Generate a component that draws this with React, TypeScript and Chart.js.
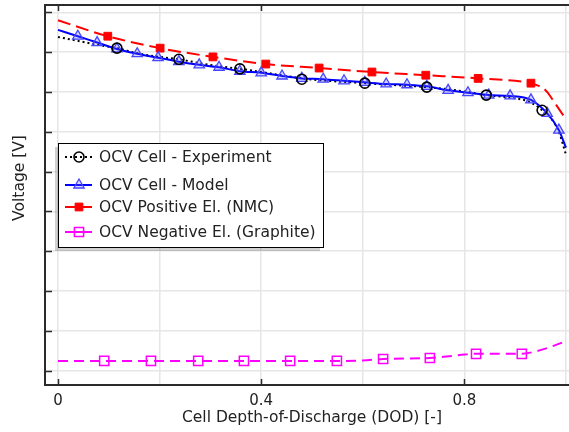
import React, { useEffect, useRef } from "react";
import { Chart, registerables } from "chart.js";
Chart.register(...registerables);

// ---------- axis ticks ----------
const xTickValues = [0, 0.2, 0.4, 0.6, 0.8, 1.0];
const xTickLabels = ["0", "", "0.4", "", "0.8", ""];
const yTickValues = [0, 0.5, 1, 1.5, 2, 2.5, 3, 3.5, 4, 4.5];

const xTitle = "Cell Depth-of-Discharge (DOD) [-]";
const yTitle = "Voltage [V]";

// ---------- series names ----------
const seriesNames = [
  "OCV Cell - Experiment",
  "OCV Cell - Model",
  "OCV Positive El. (NMC)",
  "OCV Negative El. (Graphite)",
];

// ---------- OCV Cell - Experiment ----------
const expDod = [0, 0.04, 0.08, 0.116, 0.16, 0.2, 0.238, 0.28, 0.32, 0.358, 0.4, 0.44, 0.48, 0.54, 0.604, 0.665, 0.726, 0.785, 0.843, 0.9, 0.93, 0.953, 0.974, 0.987, 1.0];
const expV = [4.19, 4.14, 4.09, 4.05, 3.98, 3.94, 3.91, 3.86, 3.82, 3.79, 3.75, 3.71, 3.67, 3.635, 3.61, 3.585, 3.56, 3.52, 3.46, 3.42, 3.37, 3.27, 3.14, 2.98, 2.71];
const expMarkDod = [0.116, 0.238, 0.358, 0.48, 0.604, 0.726, 0.843, 0.953];
const expMarkV = [4.05, 3.91, 3.79, 3.66, 3.61, 3.56, 3.46, 3.27];

// ---------- OCV Cell - Model ----------
const modelDod = [0, 0.039, 0.077, 0.116, 0.156, 0.197, 0.238, 0.278, 0.317, 0.358, 0.4, 0.441, 0.48, 0.522, 0.563, 0.604, 0.646, 0.687, 0.726, 0.768, 0.807, 0.848, 0.89, 0.931, 0.963, 0.986, 1.0];
const modelV = [4.28, 4.2, 4.12, 4.04, 3.98, 3.93, 3.88, 3.84, 3.81, 3.76, 3.74, 3.7, 3.67, 3.66, 3.64, 3.62, 3.6, 3.59, 3.57, 3.52, 3.49, 3.46, 3.45, 3.4, 3.23, 3.02, 2.8];
const modelMarkDod = [0.039, 0.077, 0.116, 0.156, 0.197, 0.238, 0.278, 0.317, 0.358, 0.4, 0.441, 0.48, 0.522, 0.563, 0.604, 0.646, 0.687, 0.726, 0.768, 0.807, 0.848, 0.89, 0.931, 0.963, 0.986];
const modelMarkV = [4.2, 4.12, 4.04, 3.98, 3.93, 3.88, 3.84, 3.81, 3.76, 3.74, 3.7, 3.67, 3.66, 3.64, 3.62, 3.6, 3.59, 3.57, 3.52, 3.49, 3.46, 3.45, 3.4, 3.23, 3.02];

// ---------- OCV Positive El. (NMC) ----------
const posDod = [0, 0.098, 0.201, 0.305, 0.409, 0.514, 0.618, 0.724, 0.827, 0.931, 0.945, 0.955, 0.964, 0.974, 0.992, 1.0];
const posV = [4.4, 4.2, 4.05, 3.94, 3.85, 3.8, 3.75, 3.71, 3.67, 3.61, 3.58, 3.55, 3.49, 3.4, 3.23, 3.16];
const posMarkDod = [0.098, 0.201, 0.305, 0.409, 0.514, 0.618, 0.724, 0.827, 0.931];
const posMarkV = [4.2, 4.05, 3.94, 3.85, 3.8, 3.75, 3.71, 3.67, 3.61];

// ---------- OCV Negative El. (Graphite) ----------
const negDod = [0, 0.091, 0.183, 0.276, 0.366, 0.457, 0.549, 0.6, 0.64, 0.732, 0.77, 0.8, 0.823, 0.913, 0.943, 0.969, 1.0];
const negV = [0.12, 0.12, 0.12, 0.12, 0.12, 0.12, 0.12, 0.125, 0.145, 0.157, 0.18, 0.2, 0.21, 0.21, 0.245, 0.295, 0.37];
const negMarkDod = [0.091, 0.183, 0.276, 0.366, 0.457, 0.549, 0.64, 0.732, 0.823, 0.913];
const negMarkV = [0.12, 0.12, 0.12, 0.12, 0.12, 0.12, 0.145, 0.157, 0.21, 0.21];

const zip = (xs: number[], ys: number[]) => xs.map((x, i) => ({ x, y: ys[i] }));

const FONT = "'DejaVu Sans', 'Liberation Sans', sans-serif";

type Style = {
  color: string;
  dash: number[];
  width: number;
  marker: "circle" | "triangle" | "rect";
  r: number;
  mBorder: string;
  mFill: string;
  mWidth: number;
};

const styles: Style[] = [
  { color: "#000000", dash: [2, 3], width: 2, marker: "circle", r: 5, mBorder: "#000000", mFill: "rgba(0,0,0,0)", mWidth: 1.6 },
  { color: "#0000ff", dash: [], width: 2, marker: "triangle", r: 6, mBorder: "#4646ff", mFill: "rgba(90,90,255,0.25)", mWidth: 1.3 },
  { color: "#ff0000", dash: [13, 6], width: 2, marker: "rect", r: 5.5, mBorder: "#ff0000", mFill: "#ff0000", mWidth: 1 },
  { color: "#ff00ff", dash: [10, 6], width: 2, marker: "rect", r: 6.5, mBorder: "#ff00ff", mFill: "rgba(255,0,255,0)", mWidth: 1.5 },
];

function drawMarker(ctx: CanvasRenderingContext2D, s: Style, x: number, y: number) {
  ctx.save();
  ctx.setLineDash([]);
  ctx.lineWidth = s.mWidth;
  ctx.strokeStyle = s.mBorder;
  ctx.fillStyle = s.mFill;
  ctx.beginPath();
  if (s.marker === "circle") {
    ctx.arc(x, y, s.r, 0, Math.PI * 2);
  } else if (s.marker === "triangle") {
    let rad = -Math.PI / 2;
    ctx.moveTo(x + Math.cos(rad) * s.r, y + Math.sin(rad) * s.r);
    rad += (2 * Math.PI) / 3;
    ctx.lineTo(x + Math.cos(rad) * s.r, y + Math.sin(rad) * s.r);
    rad += (2 * Math.PI) / 3;
    ctx.lineTo(x + Math.cos(rad) * s.r, y + Math.sin(rad) * s.r);
    ctx.closePath();
  } else {
    const h = s.r * Math.SQRT1_2;
    ctx.rect(x - h, y - h, 2 * h, 2 * h);
  }
  ctx.fill();
  ctx.stroke();
  ctx.restore();
}

export default function App() {
  const ref = useRef<HTMLCanvasElement>(null);

  useEffect(() => {
    if (!ref.current) return;

    const framePlugin = {
      id: "frame",
      afterDraw(chart: any) {
        const { ctx, chartArea, scales } = chart;
        const xs = scales.x;
        const ys = scales.y;
        ctx.save();
        // top border
        ctx.strokeStyle = "#2b2b2b";
        ctx.lineWidth = 2;
        ctx.beginPath();
        ctx.moveTo(chartArea.left - 1, chartArea.top);
        ctx.lineTo(chartArea.right, chartArea.top);
        ctx.stroke();
        // inward ticks
        ctx.lineWidth = 1.5;
        ctx.beginPath();
        xTickValues.forEach((v, i) => {
          if (!xTickLabels[i]) return;
          const px = Math.round(xs.getPixelForValue(v)) + 0.5;
          ctx.moveTo(px, chartArea.bottom);
          ctx.lineTo(px, chartArea.bottom - 6);
          ctx.moveTo(px, chartArea.top);
          ctx.lineTo(px, chartArea.top + 6);
        });
        yTickValues.forEach((v) => {
          const py = Math.round(ys.getPixelForValue(v)) + 0.5;
          ctx.moveTo(chartArea.left, py);
          ctx.lineTo(chartArea.left + 7, py);
        });
        ctx.stroke();

        // y axis title
        ctx.save();
        ctx.translate(20, 178);
        ctx.rotate(-Math.PI / 2);
        ctx.font = `15.5px ${FONT}`;
        ctx.fillStyle = "#222222";
        ctx.textAlign = "center";
        ctx.textBaseline = "middle";
        ctx.fillText(yTitle, 0, 0);
        ctx.restore();

        // legend
        const bx = 58, by = 143, bw = 265, bh = 104;
        ctx.fillStyle = "rgba(0,0,0,0.18)";
        ctx.fillRect(bx - 3, by + 4, bw, bh);
        ctx.fillStyle = "#ffffff";
        ctx.fillRect(bx, by, bw, bh);
        ctx.strokeStyle = "#000000";
        ctx.lineWidth = 1;
        ctx.strokeRect(bx + 0.5, by + 0.5, bw, bh);
        const rows = [157, 185, 207, 232];
        ctx.font = `15.5px ${FONT}`;
        ctx.textBaseline = "middle";
        ctx.textAlign = "left";
        seriesNames.forEach((name, i) => {
          const s = styles[i];
          const y = rows[i];
          ctx.save();
          ctx.strokeStyle = s.color;
          ctx.lineWidth = s.width;
          ctx.setLineDash(i === 0 ? s.dash : []);
          ctx.beginPath();
          ctx.moveTo(65, y);
          ctx.lineTo(92, y);
          ctx.stroke();
          ctx.restore();
          drawMarker(ctx, s, 79, y);
          ctx.fillStyle = "#222222";
          ctx.fillText(name, 99, y + 1);
        });
        ctx.restore();
      },
    };

    const lineDs = (data: any, s: Style, order: number) => ({
      data,
      borderColor: s.color,
      borderWidth: s.width,
      borderDash: s.dash,
      pointRadius: 0,
      showLine: true,
      fill: false,
      cubicInterpolationMode: "monotone",
      order,
    });
    const markDs = (data: any, s: Style, order: number) => ({
      data,
      showLine: false,
      pointStyle: s.marker,
      pointRadius: s.r,
      pointBorderColor: s.mBorder,
      pointBackgroundColor: s.mFill,
      pointBorderWidth: s.mWidth,
      order,
    });

    const chart = new Chart(ref.current, {
      type: "scatter",
      data: {
        datasets: [
          lineDs(zip(negDod, negV), styles[3], 8),
          markDs(zip(negMarkDod, negMarkV), styles[3], 7),
          lineDs(zip(posDod, posV), styles[2], 6),
          markDs(zip(posMarkDod, posMarkV), styles[2], 5),
          lineDs(zip(expDod, expV), styles[0], 4),
          lineDs(zip(modelDod, modelV), styles[1], 3),
          markDs(zip(modelMarkDod, modelMarkV), styles[1], 2),
          markDs(zip(expMarkDod, expMarkV), styles[0], 1),
        ] as any,
      },
      options: {
        animation: false,
        responsive: false,
        events: [],
        layout: { autoPadding: false, padding: { top: 5, right: 0, left: 0, bottom: 0 } },
        plugins: { legend: { display: false }, tooltip: { enabled: false } },
        scales: {
          x: {
            type: "linear",
            min: -0.02559,
            max: 1.0256,
            afterFit: (s: any) => {
              s.height = 47;
              s.paddingLeft = 0;
              s.paddingRight = 0;
            },
            afterBuildTicks: (s: any) => {
              s.ticks = xTickValues.map((v) => ({ value: v }));
            },
            ticks: {
              padding: 7,
              autoSkip: false,
              maxRotation: 0,
              color: "#222222",
              font: { family: FONT, size: 15 },
              callback: (_v: any, i: number) => xTickLabels[i],
            },
            grid: { color: "#e6e6e6", lineWidth: 1.5, drawTicks: false },
            border: { display: true, color: "#2b2b2b", width: 2 },
            title: {
              display: true,
              text: xTitle,
              color: "#222222",
              font: { family: FONT, size: 15.5 },
              padding: { top: 0, bottom: 5 },
            },
          },
          y: {
            type: "linear",
            min: -0.182,
            max: 4.592,
            afterFit: (s: any) => {
              s.width = 45;
              s.paddingTop = 0;
              s.paddingBottom = 0;
            },
            afterBuildTicks: (s: any) => {
              s.ticks = yTickValues.map((v) => ({ value: v }));
            },
            ticks: { display: false },
            grid: { color: "#e6e6e6", lineWidth: 1.5, drawTicks: false },
            border: { display: true, color: "#2b2b2b", width: 2 },
            title: { display: false },
          },
        },
      } as any,
      plugins: [framePlugin],
    });
    return () => chart.destroy();
  }, []);

  return (
    <div
      style={{
        position: "fixed",
        left: 0,
        top: 0,
        width: 569,
        height: 432,
        overflow: "hidden",
        background: "#ffffff",
      }}
    >
      <div style={{ width: 579, height: 432 }}>
        <canvas ref={ref} width={579} height={432} style={{ display: "block", width: 579, height: 432 }} />
      </div>
    </div>
  );
}
